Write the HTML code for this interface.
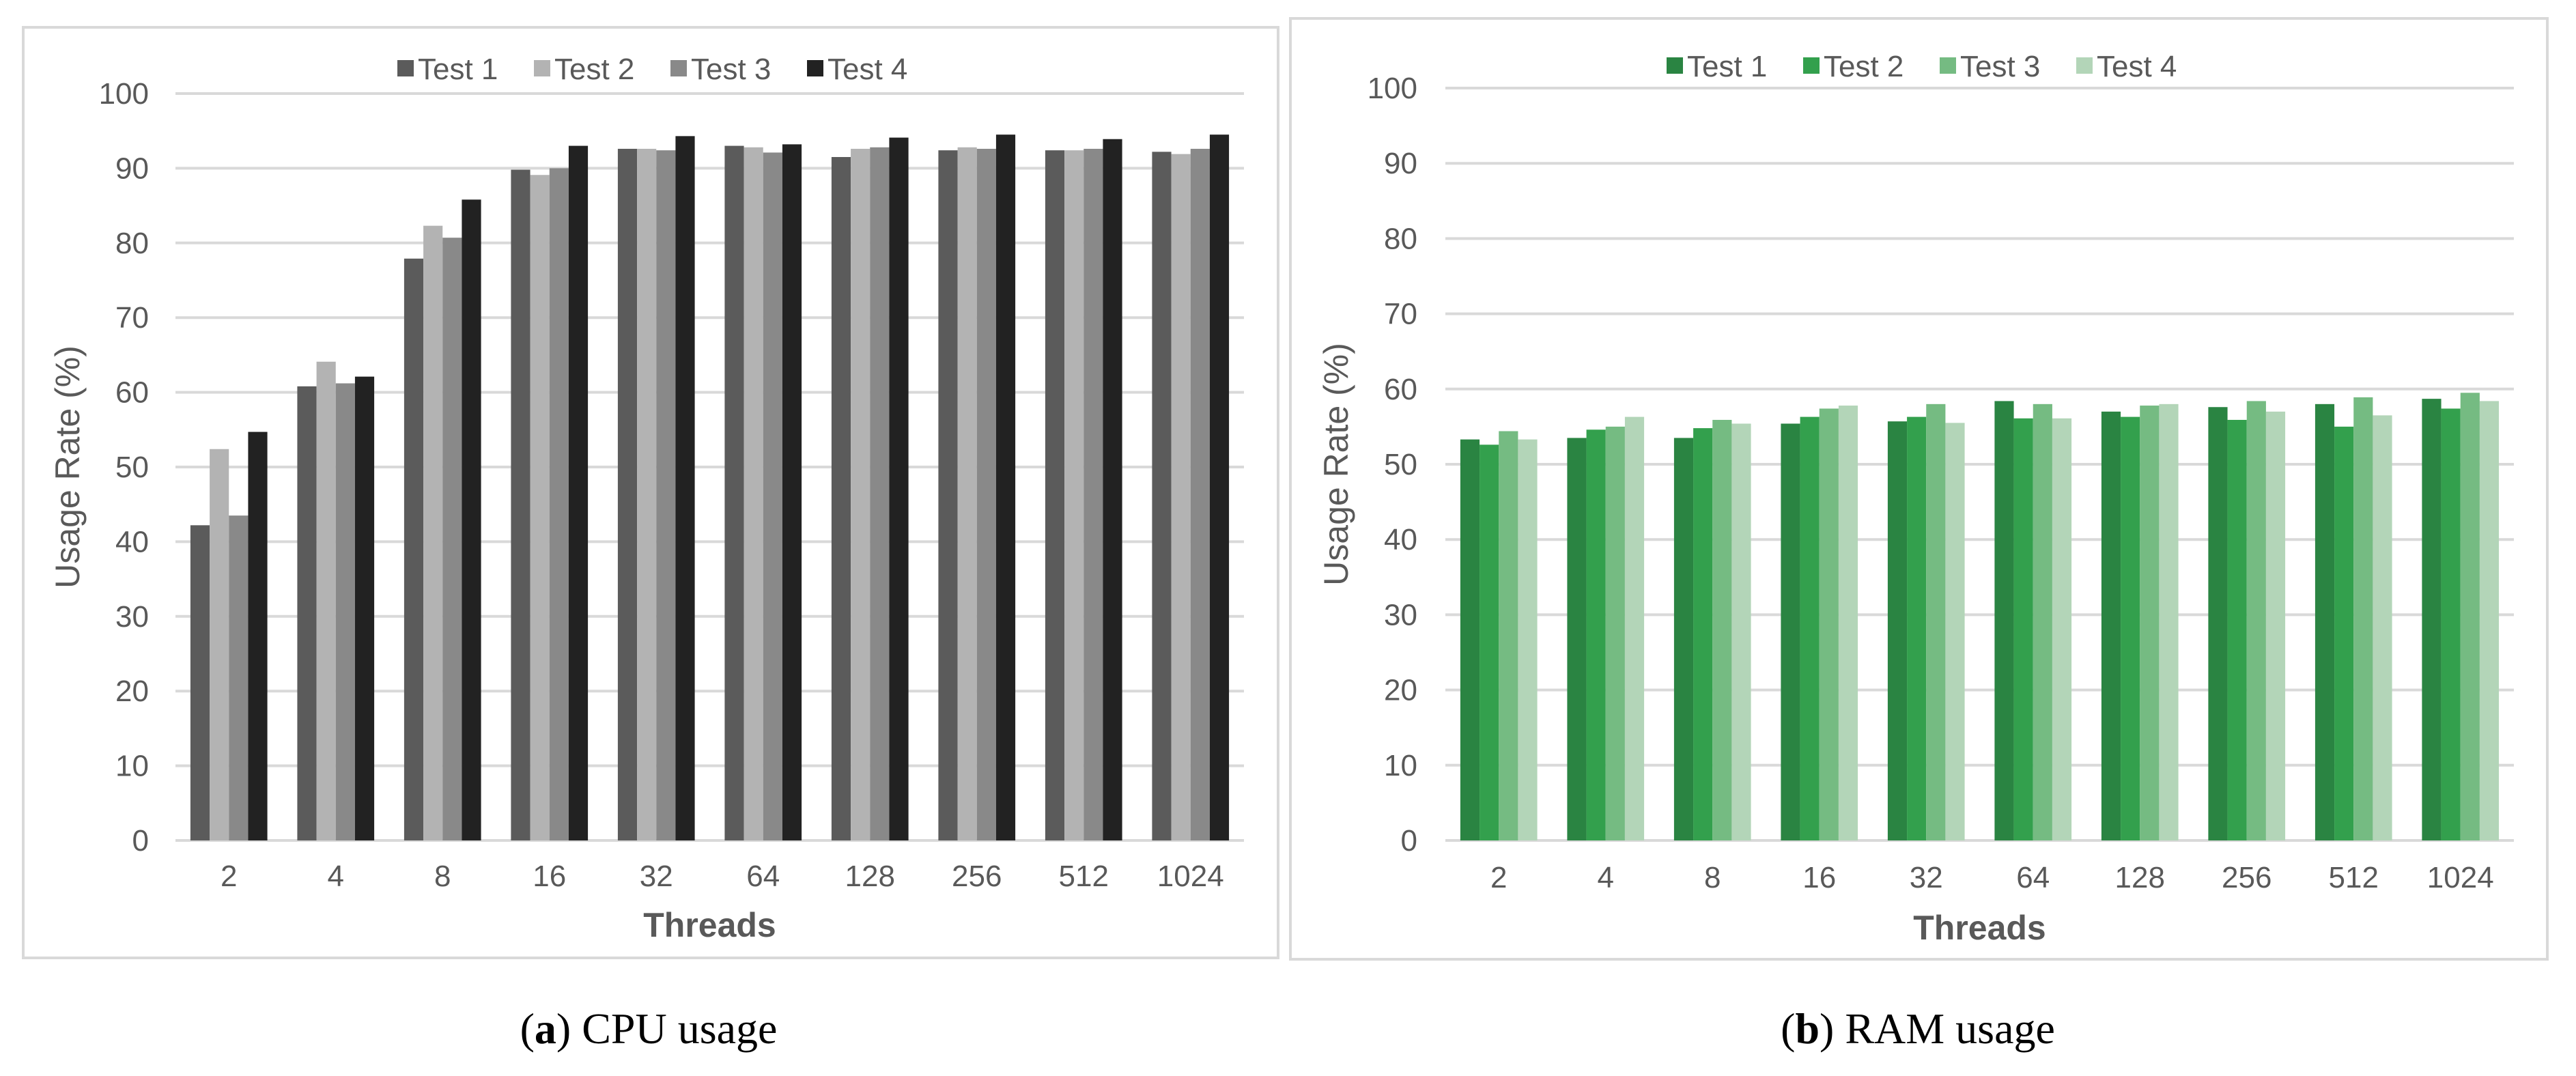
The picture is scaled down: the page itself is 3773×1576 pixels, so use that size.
<!DOCTYPE html>
<html><head><meta charset="utf-8"><style>
html,body{margin:0;padding:0;background:#fff;}
svg{display:block;}
text{font-family:"Liberation Sans",sans-serif;}
.cap{font-family:"Liberation Serif",serif;}
</style></head><body>
<svg id="svg" width="3773" height="1576" viewBox="0 0 3773 1576" xmlns="http://www.w3.org/2000/svg">
</svg>
<script>
const categories = ["2","4","8","16","32","64","128","256","512","1024"];
const seriesNames = ["Test 1","Test 2","Test 3","Test 4"];
const yTicks = [0,10,20,30,40,50,60,70,80,90,100];
const cpuT1 = [42.2,60.8,77.9,89.8,92.6,93.0,91.5,92.4,92.4,92.2];
const cpuT2 = [52.4,64.1,82.3,89.1,92.6,92.8,92.6,92.8,92.4,91.9];
const cpuT3 = [43.5,61.2,80.7,90.0,92.4,92.1,92.8,92.6,92.6,92.6];
const cpuT4 = [54.7,62.1,85.8,93.0,94.3,93.2,94.1,94.5,93.9,94.5];
const ramT1 = [53.3,53.5,53.5,55.4,55.7,58.4,57.0,57.6,58.0,58.7];
const ramT2 = [52.6,54.6,54.8,56.3,56.3,56.1,56.3,55.9,55.0,57.4];
const ramT3 = [54.4,55.0,55.9,57.4,58.0,58.0,57.8,58.4,58.9,59.5];
const ramT4 = [53.3,56.3,55.4,57.8,55.5,56.1,58.0,57.0,56.5,58.4];

const NS="http://www.w3.org/2000/svg";
const svg=document.getElementById('svg');
function mk(tag,attrs,parent,txt){const e=document.createElementNS(NS,tag);for(const k in attrs)e.setAttribute(k,attrs[k]);if(txt!==undefined)e.textContent=txt;(parent||svg).appendChild(e);return e;}

function chart(cfg){
  const g=mk('g',{});
  
  
  const b=mk('rect',{x:cfg.bx,y:cfg.by,width:cfg.bw,height:cfg.bh,fill:'#fff',stroke:'#d9d9d9','stroke-width':4},g);
  
  
  const y=v=>cfg.y0-(cfg.y0-cfg.y100)*v/100;
  yTicks.forEach(t=>{
    const l=mk('line',{x1:cfg.x0,x2:cfg.x1,y1:y(t),y2:y(t),stroke:'#d9d9d9','stroke-width':4},g);
    
    
    const tx=mk('text',{x:cfg.tickX,y:y(t)+15,'text-anchor':'end','font-size':44,fill:'#595959'},g,String(t));
    
    
  });
  const cw=(cfg.x1-cfg.x0)/categories.length;
  const bw=cw*0.18;
  categories.forEach((c,i)=>{
    const cx=cfg.x0+cw*(i+0.5);
    cfg.series.forEach((s,j)=>{
      const v=s[i];
      const r=mk('rect',{x:cx-2*bw+j*bw,y:y(v),width:bw,height:y(0)-y(v),fill:cfg.colors[j]},g);
      
      
    });
    const t=mk('text',{x:cx,y:cfg.catY,'text-anchor':'middle','font-size':44,fill:'#595959'},g,c);
    
    
  });
  const xt=mk('text',{x:(cfg.x0+cfg.x1)/2,y:cfg.threadY,'text-anchor':'middle','font-size':50,'font-weight':'bold',fill:'#595959'},g,'Threads');
  
  
  const yt=mk('text',{x:0,y:0,transform:`translate(${cfg.ytX},${(cfg.y0+cfg.y100)/2}) rotate(-90)`,'text-anchor':'middle','font-size':50,fill:'#595959'},g,'Usage Rate (%)');
  
  
  const lx=[0,200,400,600];
  seriesNames.forEach((n,j)=>{
    const lg=mk('g',{},g);
    
    
    mk('rect',{x:cfg.legX+lx[j],y:cfg.legY-28,width:24,height:24,fill:cfg.colors[j]},lg);
    mk('text',{x:cfg.legX+lx[j]+30,y:cfg.legY,'font-size':44,fill:'#595959'},lg,n);
  });
  const cap=mk('text',{x:cfg.capX,y:1528,'text-anchor':'middle','font-size':64,fill:'#000',class:'cap'},g);
  
  
  mk('tspan',{},cap,'(');
  mk('tspan',{'font-weight':'bold'},cap,cfg.letter);
  mk('tspan',{},cap,') '+cfg.caption);
}

chart({name:'cpu-chart',bx:34,by:40,bw:1838,bh:1363,x0:257,x1:1822,y0:1231,y100:137,tickX:218,catY:1298,threadY:1372,ytX:116,
  legX:582,legY:116,capX:950,letter:'a',caption:'CPU usage',
  series:[cpuT1,cpuT2,cpuT3,cpuT4],colors:['#5b5b5b','#b3b3b3','#898989','#222222']});
chart({name:'ram-chart',bx:1890,by:27,bw:1841,bh:1378,x0:2117,x1:3682,y0:1231,y100:129,tickX:2076,catY:1300,threadY:1376,ytX:1974,
  legX:2441,legY:112,capX:2809,letter:'b',caption:'RAM usage',
  series:[ramT1,ramT2,ramT3,ramT4],colors:['#2a8442','#33a04d','#75bb82','#b3d5b8']});
</script>
</body></html>
